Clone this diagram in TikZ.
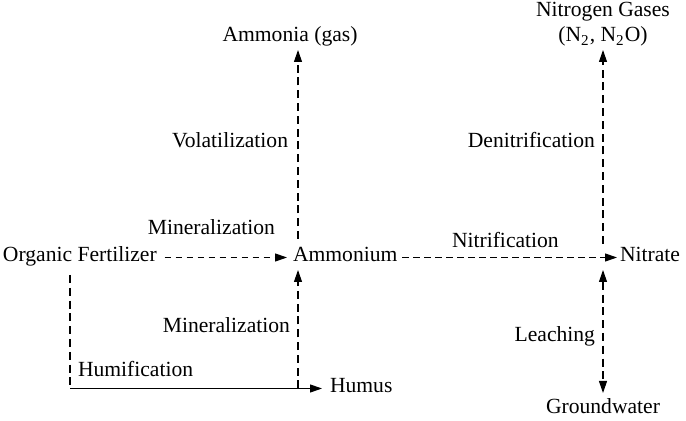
\documentclass[tikz,border=0pt]{standalone}
\usepackage{fontspec}
\setmainfont{Liberation Serif}
\usetikzlibrary{arrows.meta}
\begin{document}
\begin{tikzpicture}[x=0.5pt,y=-0.5pt,
  every node/.style={inner sep=0pt,outer sep=0pt,font=\fontsize{10.8}{13}\selectfont,text height=0.7em,text depth=0.25em},
  flow/.style={line width=0.55pt,dash pattern=on 3.2pt off 2.3pt},
  vflow/.style={line width=0.55pt,dash pattern=on 4pt off 2.4pt},
  solidflow/.style={line width=0.55pt},
  tip/.style={-{Triangle[length=6pt,width=4pt]}},
  lbl/.style={anchor=base east}]
\useasboundingbox (0,0) rectangle (686,421);
% main nodes
\node[anchor=base west] (of) at (3,262) {Organic Fertilizer};
\node[anchor=base west] (am) at (293,262) {Ammonium};
\node[anchor=base west] (ni) at (620,262) {Nitrate};
\node[anchor=base] (amg) at (290,42) {Ammonia (gas)};
\node[anchor=base] (ng1) at (603,17) {Nitrogen Gases};
\node[anchor=base] (ng2) at (603,42) {(N\textsubscript{2}, N\textsubscript{2}O)};
\node[anchor=base] (gw) at (603,414) {Groundwater};
\node[anchor=base west] (hu) at (330,393) {Humus};
% labels
\node[lbl] (l1) at (275,235) {Mineralization};
\node[lbl] (l2) at (288,148) {Volatilization};
\node[lbl] (l3) at (595,148) {Denitrification};
\node[anchor=base west] (l4) at (452,248) {Nitrification};
\node[lbl] (l5) at (595,342) {Leaching};
\node[lbl] (l6) at (290,333) {Mineralization};
\node[anchor=base west] (l7) at (78,377) {Humification};
% guide coordinates
\coordinate (va) at (298,0);
\coordinate (vn) at (603,0);
\coordinate (vh) at (70,0);
\coordinate (corner) at (vh |- hu.west);
% connectors
\draw[flow,tip,shorten <=4pt,shorten >=3pt] (of.east) -- (am.west);
\draw[flow,tip,shorten <=2.5pt,shorten >=1.5pt] (am.east) -- (ni.west);
\draw[vflow,tip,shorten <=4.5pt,shorten >=1.5pt] (am.north -| va) -- (amg.south -| va);
\draw[vflow,tip,shorten <=2pt,shorten >=1.5pt] (ni.north -| vn) -- (ng2.south -| vn);
\draw[vflow,{Triangle[length=6pt,width=4pt]}-{Triangle[length=6pt,width=4pt]},shorten <=1.5pt,shorten >=3.5pt] (ni.south -| vn) -- (gw.north -| vn);
\draw[vflow,tip,shorten >=1.5pt] (corner -| va) -- (am.south -| va);
\draw[vflow,shorten <=4pt] (of.south -| vh) -- (corner);
\draw[solidflow,tip,shorten >=4pt] (corner) -- (hu.west);
\end{tikzpicture}
\end{document}
